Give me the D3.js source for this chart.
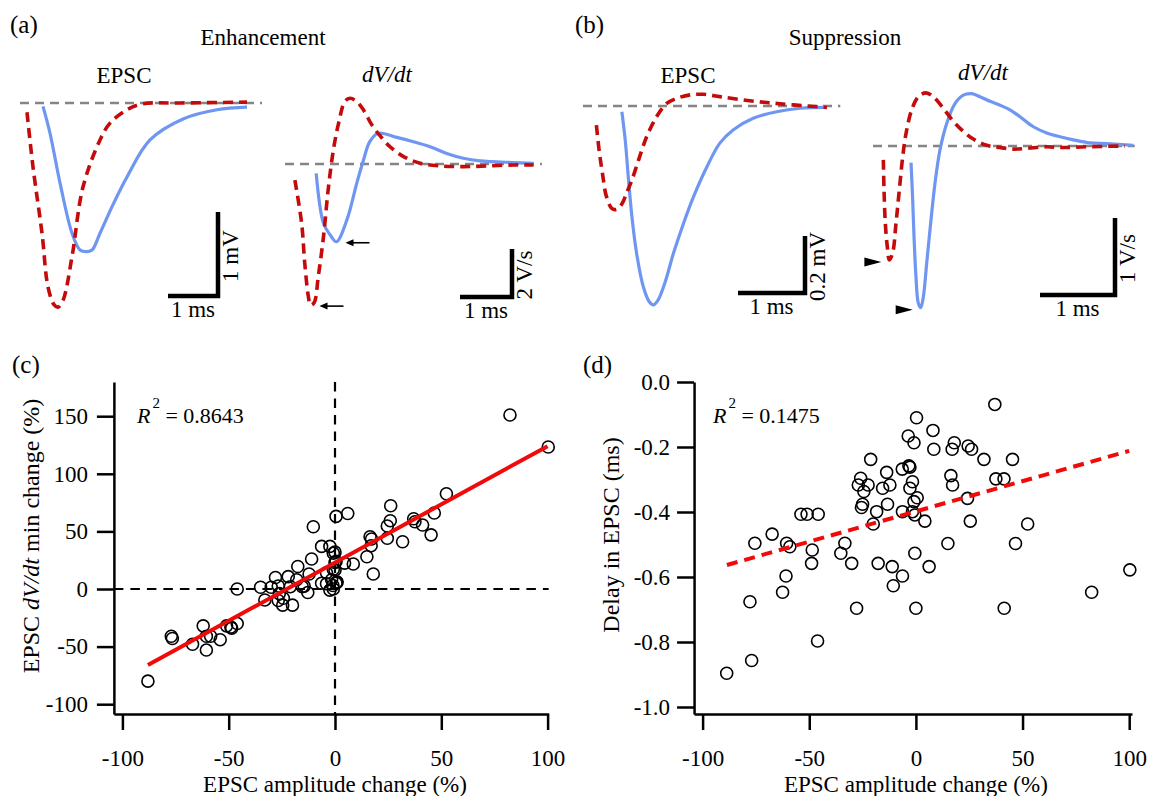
<!DOCTYPE html>
<html>
<head>
<meta charset="utf-8">
<script src="https://cdn.jsdelivr.net/npm/d3@7"></script>
<style>
body { margin: 0; background: #fff; }
svg text { font-family: "Liberation Serif", "Times New Roman", serif; fill: #000; }
</style>
</head>
<body>
<svg id="fig" width="1160" height="796"></svg>
<script>
// (c) EPSC amplitude change (%) vs EPSC dV/dt min change (%)
var ampC = [-88, -77, -76.5, -67, -62, -60.5, -58.5, -60.5, -54, -51, -48.6, -46, -49, -46, -35,
    -33, -30, -28, -26.7, -26.2, -26.7, -24.3, -24.6, -22, -21, -20, -18, -17.5, -15.4, -14.5,
    -12.8, -12.2, -11, -10.2, -6.3, -6.3, -2.4, -0.8, 0, -4, -0.8, 0, 0.5, 6, -4, -2.4, -0.8,
    0.5, 1, -1.6, 4.5, 8.6, 0.5, 0, 0.8, -1, 15, 16.5, 17.2, 17, 18, 24.6, 24.6, 26, 26.2,
    31.8, 37, 37.6, 41.2, 45.2, 46.7, 52.4, 82.3, 100.3];
var dvdtC = [-80, -41, -43, -48, -32, -41, -41, -53, -44, -32, -34, -30, -33, 0, 1.5,
    -9.5, 1.5, 10, 2.6, -4, -10, -8, -14, 10.7, 2, -14, 8, 19.5, 2, 2.5,
    -3, 13, 26, 54, 37, 5, 37, 31, 32, 14, 17, 23, 63, 65.5, 4.5, -1, 0,
    5, 6, 8, 22.5, 21.7, 24, 16.5, 6, 3, 28, 45.4, 43.4, 37.6, 13, 54.7, 44, 59.3, 72.3,
    41, 61, 58.4, 55.6, 47, 66, 82.7, 151, 123.3];
var fitC = [[-88, -66], [100, 124]];

// (d) EPSC amplitude change (%) vs delay in EPSC (ms)
var ampD = [0.3, -3.6, -0.9, -21.2, -13.7, -6.4, -3.3, -2.8, -25.9, -27, -22.4, -24.4, -15.6, -12.2,
    -1.6, -2.8, -25, -25.5, -18.4, -13.3, -6.3, -1.6, -0.9, 0.6, -0.5, -20, -53.9, -51, -45.8,
    -67.4, -75.5, -60.6, -59.1, -48.6, -33.3, -35.2, -30.1, -48.9, -17.7, -11.1, -6.3, -10.6,
    -0.5, -60.9, -62.5, -77.8, -27.8, 0, -46.1, -77, -88.7, 37, 8, 8.4, 18, 17, 24.5, 26.1,
    31.9, 45.3, 16.4, 17.2, 37.5, 41.3, 4.2, 24.2, 25.5, 52.4, 15, 46.7, 6.2, 41.4, 82.4, 100.3];
var delayD = [-0.11, -0.166, -0.187, -0.238, -0.278, -0.268, -0.258, -0.262, -0.296, -0.317, -0.317, -0.337, -0.327, -0.317,
    -0.307, -0.327, -0.376, -0.386, -0.399, -0.376, -0.399, -0.399, -0.368, -0.356, -0.409, -0.437, -0.407, -0.407, -0.407,
    -0.468, -0.496, -0.496, -0.507, -0.517, -0.496, -0.527, -0.558, -0.558, -0.558, -0.568, -0.597, -0.627,
    -0.527, -0.597, -0.647, -0.676, -0.696, -0.696, -0.797, -0.857, -0.896, -0.069, -0.149, -0.207, -0.187, -0.207, -0.197, -0.207,
    -0.238, -0.238, -0.288, -0.317, -0.298, -0.298, -0.428, -0.358, -0.428, -0.437, -0.497, -0.497, -0.568, -0.696, -0.647, -0.578];
var fitD = [[-88.6, -0.563], [100, -0.212]];

var ticksX = [-100, -50, 0, 50, 100];
var ticksYC = [-100, -50, 0, 50, 100, 150];
var ticksYD = [-1.0, -0.8, -0.6, -0.4, -0.2, 0.0];

// traces, [time (ms), value]; blue = after, red dashed = before
var aEpscBlue = [[0.46,-0.04],[0.60,-0.36],[0.80,-0.95],[1.04,-1.55],[1.20,-1.75],[1.32,-1.77],[1.44,-1.75],
    [1.60,-1.55],[1.86,-1.21],[2.14,-0.88],[2.60,-0.44],[3.26,-0.19],[3.94,-0.08],[4.54,-0.05]];
var aEpscRed = [[0.14,-0.11],[0.26,-0.76],[0.44,-1.55],[0.56,-2.19],[0.68,-2.40],[0.76,-2.43],[0.86,-2.35],
    [1.04,-1.83],[1.26,-1.0],[1.60,-0.44],[1.80,-0.24],[2.14,-0.08],[2.46,-0.01],[3.2,0],[4.54,0.01]];
var aDvdtBlue = [[0.60,-0.39],[0.74,-2.47],[0.87,-2.96],[0.99,-3.24],[1.19,-2.33],[1.38,-0.80],[1.51,0.17],
    [1.63,0.93],[1.79,1.28],[2.15,1.11],[2.47,0.93],[2.79,0.72],[3.11,0.44],[3.43,0.24],[3.75,0.13],
    [4.39,0.06],[4.78,0.03]];
var aDvdtRed = [[0.19,-0.67],[0.32,-2.47],[0.38,-4.14],[0.45,-5.53],[0.49,-5.88],[0.56,-5.78],[0.64,-4.69],
    [0.74,-3.03],[0.83,-1.08],[0.93,0.58],[1.03,1.69],[1.15,2.60],[1.25,2.74],[1.38,2.60],[1.51,2.25],
    [1.67,1.63],[1.83,1.17],[2.02,0.72],[2.28,0.31],[2.60,0.03],[2.98,-0.08],[3.43,-0.11],[3.88,-0.08],
    [4.39,-0.04],[4.78,-0.04]];
var bEpscBlue = [[0.58,-0.020],[0.63,-0.119],[0.68,-0.260],[0.73,-0.388],[0.80,-0.517],[0.90,-0.634],
    [0.99,-0.687],[1.05,-0.698],[1.12,-0.681],[1.22,-0.622],[1.35,-0.517],[1.50,-0.412],[1.65,-0.318],
    [1.85,-0.213],[2.04,-0.131],[2.24,-0.084],[2.54,-0.043],[2.89,-0.020],[3.24,-0.008],[3.64,-0.005]];
var bEpscRed = [[0.20,-0.067],[0.24,-0.154],[0.29,-0.236],[0.35,-0.318],[0.43,-0.359],[0.50,-0.363],
    [0.58,-0.344],[0.65,-0.306],[0.73,-0.260],[0.83,-0.189],[0.95,-0.108],[1.10,-0.037],[1.25,0.009],
    [1.40,0.027],[1.60,0.039],[1.80,0.041],[2.04,0.033],[2.34,0.023],[2.74,0.012],[3.14,0.004],[3.64,-0.005]];
var bDvdtBlue = [[0.507,-0.216],[0.529,-0.70],[0.547,-1.18],[0.573,-1.70],[0.604,-2.04],[0.636,-2.10],
    [0.671,-1.96],[0.716,-1.52],[0.769,-1.00],[0.827,-0.48],[0.893,-0.05],[0.982,0.29],[1.093,0.55],
    [1.204,0.66],[1.316,0.68],[1.427,0.64],[1.56,0.58],[1.693,0.53],[1.827,0.47],[1.96,0.38],[2.138,0.25],
    [2.316,0.17],[2.493,0.12],[2.671,0.08],[2.893,0.04],[3.116,0.03],[3.471,0.01]];
var bDvdtRed = [[0.138,-0.18],[0.147,-0.57],[0.164,-1.00],[0.191,-1.31],[0.218,-1.48],[0.262,-1.39],
    [0.307,-1.00],[0.351,-0.57],[0.396,-0.14],[0.44,0.16],[0.516,0.47],[0.604,0.64],[0.707,0.69],
    [0.804,0.64],[0.938,0.49],[1.071,0.32],[1.204,0.19],[1.338,0.09],[1.516,0.01],[1.693,-0.02],
    [1.871,-0.04],[2.049,-0.03],[2.316,-0.01],[2.493,-0.02],[2.849,-0.01],[3.36,0.00]];

var BLUE = "#6f96f0", DRED = "#c40a0a", FS = 23;
var svg = d3.select("#fig");

function label(x, y, txt, size, anchor) {
    return svg.append("text").attr("x", x).attr("y", y).attr("font-size", size || FS)
        .attr("text-anchor", anchor || "middle").text(txt);
}

// ---------- trace panels ----------
function tracePanel(p) {
    var x = d3.scaleLinear().domain([0, 1]).range([p.x0, p.x0 + p.msPx]);
    var y = d3.scaleLinear().domain([0, 1]).range([p.y0, p.y0 - p.unitPx]);
    var line = d3.line().x(function(d){ return x(d[0]); }).y(function(d){ return y(d[1]); })
        .curve(d3.curveCatmullRom.alpha(0.5));
    var g = svg.append("g");
    g.append("line").attr("x1", x(0)).attr("x2", x(p.baseEnd)).attr("y1", y(0)).attr("y2", y(0))
        .attr("stroke", "#858585").attr("stroke-width", 2.5).attr("stroke-dasharray", "9,6");
    g.append("path").attr("d", line(p.blue)).attr("fill", "none").attr("stroke", BLUE)
        .attr("stroke-width", 3.2).attr("stroke-linejoin", "round");
    g.append("path").attr("d", line(p.red)).attr("fill", "none").attr("stroke", DRED)
        .attr("stroke-width", 3.6).attr("stroke-dasharray", "10,6");

    // scale bar
    var cx = p.bar[0], cy = p.bar[1];
    var bw = x(1) - x(0), bh = y(0) - y(p.barV);
    g.append("path").attr("d", "M" + (cx - bw) + "," + cy + "H" + cx + "V" + (cy - bh))
        .attr("fill", "none").attr("stroke", "#000").attr("stroke-width", 4.5);
    label(cx - bw / 2, cy + 21, "1 ms");
    svg.append("text").attr("transform", "translate(" + (cx + 20) + "," + (cy - bh / 2 + 2) + ") rotate(-90)")
        .attr("font-size", FS).attr("text-anchor", "middle").text(p.barLabel);

    var minB = d3.min(p.blue, function(d){ return d[1]; });
    var minR = d3.min(p.red, function(d){ return d[1]; });
    var tB = p.blue.find(function(d){ return d[1] === minB; })[0];
    var tR = p.red.find(function(d){ return d[1] === minR; })[0];
    if (p.arrows === "left") {
        [[tB, minB], [tR, minR]].forEach(function(m){
            var ax = x(m[0]) + 9, ay = y(m[1]) + 1;
            g.append("line").attr("x1", ax + 4).attr("x2", ax + 24).attr("y1", ay).attr("y2", ay)
                .attr("stroke", "#000").attr("stroke-width", 1.6);
            g.append("path").attr("d", "M" + ax + "," + ay + "l8,-3.5v7z").attr("fill", "#000");
        });
    } else if (p.arrows === "right") {
        [[tB, minB], [tR, minR]].forEach(function(m){
            var ax = x(m[0]) - 8, ay = y(m[1]) + 2;
            g.append("path").attr("d", "M" + ax + "," + ay + "l-17,-4.5v9z").attr("fill", "#000");
        });
    }
}

tracePanel({x0: 20, msPx: 50, y0: 103, unitPx: 84, baseEnd: 4.84, blue: aEpscBlue, red: aEpscRed,
    bar: [218, 296], barV: 1, barLabel: "1 mV"});
tracePanel({x0: 285, msPx: 52, y0: 164, unitPx: 24, baseEnd: 4.94, blue: aDvdtBlue, red: aDvdtRed,
    bar: [512, 297], barV: 2, barLabel: "2 V/s", arrows: "left"});
tracePanel({x0: 583, msPx: 67, y0: 106, unitPx: 285, baseEnd: 3.84, blue: bEpscBlue, red: bEpscRed,
    bar: [805, 293], barV: 0.2, barLabel: "0.2 mV"});
tracePanel({x0: 873, msPx: 75, y0: 146, unitPx: 77, baseEnd: 3.49, blue: bDvdtBlue, red: bDvdtRed,
    bar: [1115, 295], barV: 1, barLabel: "1 V/s", arrows: "right"});

label(10, 33, "(a)", 25, "start");
label(575, 33, "(b)", 25, "start");
label(263, 45, "Enhancement");
label(845, 45, "Suppression");
label(124, 83, "EPSC");
label(688, 83, "EPSC");
label(387, 82, "dV/dt").attr("font-style", "italic");
label(983, 80, "dV/dt").attr("font-style", "italic");

// ---------- scatter panels ----------
function styleAxis(g) {
    g.attr("font-family", "Liberation Serif, Times New Roman, serif").attr("font-size", FS);
    g.selectAll("path, line").attr("stroke", "#000").attr("stroke-width", 2.5);
    g.selectAll("text").attr("fill", "#000");
}

function scatterPanel(p) {
    var x = d3.scaleLinear().domain([-100, 100]).range(p.xr);
    var y = d3.scaleLinear().domain(p.yd).range(p.yr);
    var xa = x.copy().domain(p.xExt).range(p.xExt.map(x));
    var ya = y.copy().domain(p.yExt).range(p.yExt.map(y));
    var bottom = ya.range()[0], left = xa.range()[0];

    if (p.zeroLines) {
        svg.append("line").attr("x1", x(0)).attr("x2", x(0)).attr("y1", ya.range()[1]).attr("y2", bottom)
            .attr("stroke", "#000").attr("stroke-width", 2.2).attr("stroke-dasharray", "9.5,7");
        svg.append("line").attr("x1", left).attr("x2", xa.range()[1]).attr("y1", y(0)).attr("y2", y(0))
            .attr("stroke", "#000").attr("stroke-width", 2.2).attr("stroke-dasharray", "9.5,7");
    }

    svg.append("g").attr("transform", "translate(0," + bottom + ")")
        .call(d3.axisBottom(xa).tickValues(ticksX).tickSize(16).tickSizeOuter(0).tickPadding(20)
            .tickFormat(function(d){ return String(d); }))
        .call(styleAxis);
    svg.append("g").attr("transform", "translate(" + left + ",0)")
        .call(d3.axisLeft(ya).tickValues(p.yTicks).tickSize(17).tickSizeOuter(0).tickPadding(p.yPad)
            .tickFormat(p.yFmt))
        .call(styleAxis);

    svg.append("g").selectAll("circle").data(p.xs).enter().append("circle")
        .attr("cx", function(d){ return x(d); })
        .attr("cy", function(d, i){ return y(p.ys[i]); })
        .attr("r", 6).attr("fill", "none").attr("stroke", "#000").attr("stroke-width", 1.6);

    svg.append("line").attr("x1", x(p.fit[0][0])).attr("y1", y(p.fit[0][1]))
        .attr("x2", x(p.fit[1][0])).attr("y2", y(p.fit[1][1]))
        .attr("stroke", "#f00a0a").attr("stroke-width", 4).attr("stroke-dasharray", p.fitDash);

    var r2 = svg.append("text").attr("x", p.r2[0]).attr("y", p.r2[1]).attr("font-size", 22);
    r2.append("tspan").attr("font-style", "italic").text("R");
    r2.append("tspan").attr("font-size", 15).attr("dy", -15).attr("dx", 2).text("2");
    r2.append("tspan").attr("dy", 15).text(" = " + p.r2Text);

    label(x(0), 792, "EPSC amplitude change (%)", 23);
}

scatterPanel({xr: [122.4, 547.6], yd: [0, 150], yr: [589, 416.2], xExt: [-104, 100.5], yExt: [-108.5, 179.7],
    xs: ampC, ys: dvdtC, fit: fitC, fitDash: null, zeroLines: true, yTicks: ticksYC, yPad: 9,
    yFmt: function(d){ return String(d); }, r2: [137, 423], r2Text: "0.8643"});
scatterPanel({xr: [702.6, 1129.2], yd: [0, -1], yr: [382, 707], xExt: [-104, 101.3], yExt: [-1.0215, 0],
    xs: ampD, ys: delayD, fit: fitD, fitDash: "11,7", zeroLines: false, yTicks: ticksYD, yPad: 7,
    yFmt: function(d){ return d.toFixed(1); }, r2: [713, 423], r2Text: "0.1475"});

label(12, 373, "(c)", 25, "start");
label(583, 373, "(d)", 25, "start");

var yc = svg.append("text").attr("transform", "translate(39,536) rotate(-90)")
    .attr("font-size", 24).attr("text-anchor", "middle");
yc.append("tspan").text("EPSC ");
yc.append("tspan").attr("font-style", "italic").text("dV/dt");
yc.append("tspan").text(" min change (%)");

svg.append("text").attr("transform", "translate(619,535) rotate(-90)")
    .attr("font-size", 24).attr("text-anchor", "middle").text("Delay in EPSC (ms)");
</script>
</body>
</html>
